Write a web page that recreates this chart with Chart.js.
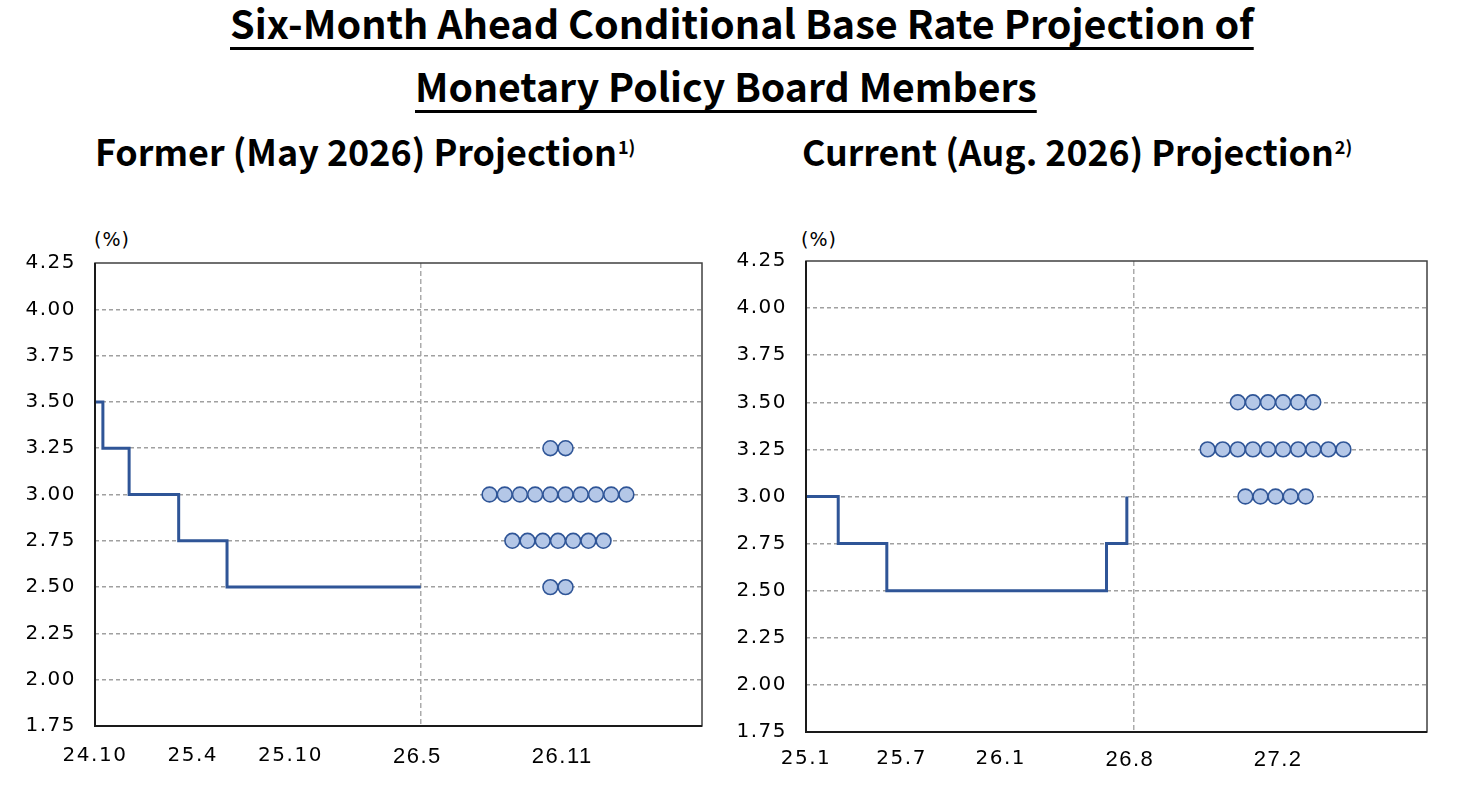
<!DOCTYPE html>
<html>
<head>
<meta charset="utf-8">
<script src="https://cdn.jsdelivr.net/npm/chart.js@4.4.0/dist/chart.umd.min.js"></script>
<style>
  body { margin: 0; width: 1477px; height: 787px; position: relative; background: #fff; overflow: hidden;
         font-family: "Noto Sans CJK KR", "Noto Sans", sans-serif; }
  .t { position: absolute; white-space: nowrap; font-weight: 700; color: #000; line-height: 1; font-size: 36px; }
  .u { text-decoration: underline; text-decoration-thickness: 2.5px; text-underline-offset: 8px; text-decoration-skip-ink: none; }
  .bl { display: inline-block; width: 0; height: 0; }
  .sup { font-size: 18px; position: relative; top: -12px; margin-left: 1px; }
  .pct { position: absolute; top: 228px; font: 19px "DejaVu Sans"; letter-spacing: 1px; color: #000; }
  canvas { position: absolute; }
</style>
</head>
<body>
<div class="t" id="title1"><span class="u main">Six-Month Ahead Conditional Base Rate Projection of</span><i class="bl"></i></div>
<div class="t" id="title2"><span class="u main">Monetary Policy Board Members</span><i class="bl"></i></div>
<div class="t" id="sub1"><span class="main">Former (May 2026) Projection</span><span class="sup">1)</span><i class="bl"></i></div>
<div class="t" id="sub2"><span class="main">Current (Aug. 2026) Projection</span><span class="sup">2)</span><i class="bl"></i></div>
<div class="pct" style="left:94px">(%)</div>
<div class="pct" style="left:801px">(%)</div>

<canvas id="former" width="720" height="567" style="left:0;top:220px"></canvas>
<canvas id="current" width="757" height="567" style="left:720px;top:220px"></canvas>

<script>
/* rate scale (%) */
var yMin = 1.75, yMax = 4.25, yStep = 0.25;

/* former (May 2026) projection: months counted from 24.10 */
var formerRateMonths = [0, 0.46, 1.99, 4.88, 7.7, 19];
var formerRates = [3.50, 3.25, 3.00, 2.75, 2.50, 2.50];
var formerDotLevels = [3.25, 3.00, 2.75, 2.50];
var formerDotCounts = [2, 10, 7, 2];
var formerTickMonths = [0, 5.7, 11.4, 18.8, 27.25];
var formerTickLabels = ['24.10', '25.4', '25.10', '26.5', '26.11'];
var formerSplitMonth = 19;

/* current (Aug. 2026) projection: months counted from 25.1 */
var currentRateMonths = [0, 1.87, 4.69, 17.44, 18.62];
var currentRates = [3.00, 2.75, 2.50, 2.75, 3.00];
var currentDotLevels = [3.50, 3.25, 3.00];
var currentDotCounts = [6, 10, 5];
var currentTickMonths = [0, 5.55, 11.3, 18.8, 27.4];
var currentTickLabels = ['25.1', '25.7', '26.1', '26.8', '27.2'];
var currentSplitMonth = 19;

/* headings: fit widths and baselines to the layout */
function placeText(id, left, width, baseline) {
  var el = document.getElementById(id);
  var main = el.querySelector('.main');
  var fs = parseFloat(getComputedStyle(el).fontSize);
  el.style.fontSize = (fs * width / main.getBoundingClientRect().width) + 'px';
  el.style.left = left + 'px';
  el.style.top = '0px';
  var b = el.querySelector('.bl').getBoundingClientRect().bottom;
  el.style.top = (baseline - b) + 'px';
}
placeText('title1', 230, 1024, 39);
placeText('title2', 415, 622, 102);
placeText('sub1', 95, 522, 166);
placeText('sub2', 802, 532, 166);

var spacing = {
  id: 'spacing',
  beforeDraw: function (chart) { chart.ctx.letterSpacing = '1.5px'; }
};

var frame = {
  id: 'frame',
  afterDraw: function (chart) {
    var a = chart.chartArea, ctx = chart.ctx;
    ctx.save();
    ctx.strokeStyle = '#404040';
    ctx.lineWidth = 1.5;
    ctx.strokeRect(a.left, a.top, a.right - a.left, a.bottom - a.top);
    ctx.strokeStyle = '#1a1a1a';
    ctx.lineWidth = 2;
    ctx.beginPath();
    ctx.moveTo(a.left, a.top);
    ctx.lineTo(a.left, a.bottom);
    ctx.lineTo(a.right, a.bottom);
    ctx.stroke();
    ctx.restore();
  }
};

function makeChart(id, months, rates, dotLevels, dotCounts, tickMonths, tickLabels, splitMonth, box) {
  var path = months.map(function (m, i) { return {x: m, y: rates[i]}; });

  // one dot per board member, side by side around the centre of the projection column
  var dots = [];
  dotLevels.forEach(function (lv, r) {
    var n = dotCounts[r];
    for (var i = 0; i < n; i++) {
      dots.push({x: box.dotCenter + (i - (n - 1) / 2) * box.dotGap, y: lv});
    }
  });

  return new Chart(document.getElementById(id), {
    type: 'line',
    data: {
      datasets: [{
        data: path,
        stepped: 'before',
        borderColor: '#2F5597',
        borderWidth: 3,
        pointRadius: 0,
        fill: false
      }, {
        data: dots,
        showLine: false,
        pointRadius: 7.4,
        pointBackgroundColor: '#B4C7E7',
        pointBorderColor: '#2F5597',
        pointBorderWidth: 1.6
      }]
    },
    options: {
      responsive: false,
      animation: false,
      layout: { padding: { left: 0, right: box.padRight, top: box.padTop, bottom: 0 } },
      plugins: { legend: { display: false }, tooltip: { enabled: false } },
      scales: {
        x: {
          type: 'linear',
          min: 0,
          max: box.xMax,
          afterBuildTicks: function (scale) {
            var vals = tickMonths.concat([splitMonth]).sort(function (p, q) { return p - q; });
            scale.ticks = vals.map(function (v) { return {value: v}; });
          },
          afterFit: function (scale) { scale.height = box.xHeight; },
          ticks: {
            autoSkip: false,
            maxRotation: 0,
            padding: box.xPad,
            color: '#000',
            font: function (ctx) {
              if (ctx.tick && ctx.tick.value > 15) return {family: 'Liberation Sans', size: 22};
              return {family: 'DejaVu Sans', size: 20};
            },
            callback: function (v) {
              var i = tickMonths.indexOf(v);
              return i < 0 ? '' : tickLabels[i];
            }
          },
          grid: {
            drawTicks: false,
            lineWidth: 1.5,
            color: function (ctx) {
              return ctx.tick && ctx.tick.value === splitMonth ? '#ABABAB' : 'rgba(0,0,0,0)';
            }
          },
          border: { display: false, dash: [5, 3] }
        },
        y: {
          min: yMin,
          max: yMax,
          afterFit: function (scale) { scale.width = box.yWidth; },
          ticks: {
            stepSize: yStep,
            padding: box.yPad,
            color: '#000',
            font: {family: 'DejaVu Sans', size: 20},
            callback: function (v) { return Number(v).toFixed(2); }
          },
          grid: {
            drawTicks: false,
            lineWidth: 1.5,
            color: function (ctx) {
              if (!ctx.tick) return 'rgba(0,0,0,0)';
              var v = ctx.tick.value;
              return (Math.abs(v - yMin) < 1e-6 || Math.abs(v - yMax) < 1e-6) ? 'rgba(0,0,0,0)' : '#A0A0A0';
            }
          },
          border: { display: false, dash: [4, 3] }
        }
      }
    },
    plugins: [spacing, frame]
  });
}

makeChart('former', formerRateMonths, formerRates, formerDotLevels, formerDotCounts,
  formerTickMonths, formerTickLabels, formerSplitMonth,
  {yWidth: 95, yPad: 19, padRight: 18, padTop: 43, xHeight: 61, xPad: 18, xMax: 35.4, dotCenter: 27.0, dotGap: 0.887});

makeChart('current', currentRateMonths, currentRates, currentDotLevels, currentDotCounts,
  currentTickMonths, currentTickLabels, currentSplitMonth,
  {yWidth: 86, yPad: 19, padRight: 50, padTop: 41, xHeight: 55, xPad: 15, xMax: 36.04, dotCenter: 27.25, dotGap: 0.876});
</script>
</body>
</html>
